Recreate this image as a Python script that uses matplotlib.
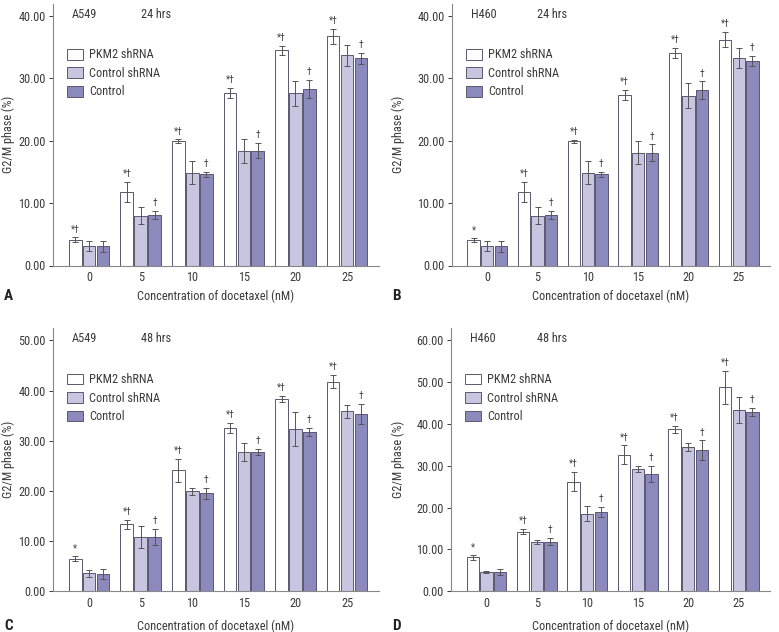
import matplotlib
matplotlib.use("Agg")
import matplotlib.pyplot as plt
from matplotlib import font_manager
from matplotlib.patches import Patch
import numpy as np

names = {f.name for f in font_manager.fontManager.ttflist}
fam = [f for f in ["Liberation Sans Narrow", "Roboto Condensed", "Liberation Sans"] if f in names] + ["DejaVu Sans"]
plt.rcParams["font.family"] = fam

concentrations = ["0", "5", "10", "15", "20", "25"]
series_names = ["PKM2 shRNA", "Control shRNA", "Control"]

# Panel A: A549 24 hrs
a_pkm2 = [4.1, 11.8, 19.9, 27.6, 34.5, 36.7]
a_pkm2_err = [0.4, 1.6, 0.3, 0.8, 0.7, 1.2]
a_ctlsh = [3.2, 8.0, 14.9, 18.3, 27.6, 33.7]
a_ctlsh_err = [0.8, 1.3, 1.9, 1.9, 2.0, 1.7]
a_ctl = [3.1, 8.1, 14.6, 18.4, 28.3, 33.2]
a_ctl_err = [0.9, 0.6, 0.4, 1.2, 1.5, 0.9]
a_mark_pkm2 = ["*†", "*†", "*†", "*†", "*†", "*†"]
a_mark_ctl = ["", "†", "†", "†", "†", "†"]

# Panel B: H460 24 hrs
b_pkm2 = [4.1, 11.8, 19.9, 27.3, 34.1, 36.2]
b_pkm2_err = [0.3, 1.6, 0.2, 0.8, 0.8, 1.2]
b_ctlsh = [3.2, 8.0, 14.9, 18.1, 27.2, 33.3]
b_ctlsh_err = [0.8, 1.3, 1.9, 1.8, 2.0, 1.6]
b_ctl = [3.1, 8.1, 14.6, 18.1, 28.1, 32.8]
b_ctl_err = [0.9, 0.6, 0.4, 1.3, 1.4, 0.8]
b_mark_pkm2 = ["*", "*†", "*†", "*†", "*†", "*†"]
b_mark_ctl = ["", "†", "†", "†", "†", "†"]

# Panel C: A549 48 hrs
c_pkm2 = [6.5, 13.4, 24.1, 32.5, 38.3, 41.8]
c_pkm2_err = [0.5, 0.9, 2.3, 1.0, 0.6, 1.3]
c_ctlsh = [3.6, 10.9, 19.9, 27.8, 32.4, 35.9]
c_ctlsh_err = [0.7, 2.2, 0.7, 1.8, 3.4, 1.3]
c_ctl = [3.45, 10.9, 19.5, 27.7, 31.8, 35.4]
c_ctl_err = [0.9, 1.6, 1.1, 0.6, 0.8, 2.0]
c_mark_pkm2 = ["*", "*†", "*†", "*†", "*†", "*†"]
c_mark_ctl = ["", "†", "†", "†", "†", "†"]

# Panel D: H460 48 hrs
d_pkm2 = [8.1, 14.3, 26.2, 32.7, 38.7, 48.8]
d_pkm2_err = [0.5, 0.6, 2.3, 2.2, 0.8, 4.0]
d_ctlsh = [4.6, 11.8, 18.6, 29.3, 34.5, 43.4]
d_ctlsh_err = [0.3, 0.4, 1.8, 0.7, 1.0, 3.1]
d_ctl = [4.7, 11.9, 18.9, 28.1, 33.7, 42.9]
d_ctl_err = [0.7, 0.9, 1.2, 1.9, 2.4, 1.0]
d_mark_pkm2 = ["*", "*†", "*†", "*†", "*†", "*†"]
d_mark_ctl = ["", "†", "†", "†", "†", "†"]

colors = ["#ffffff", "#c7c5df", "#8c89bd"]
edge = "#5a5870"
err_color = "#555555"
txt = "#3a3a3a"
fs = 8.8

W, H = 779, 632
fig = plt.figure(figsize=(W / 100, H / 100), dpi=100)

def rect(l, r, b, t):
    return [l / W, 1 - b / H, (r - l) / W, (b - t) / H]

panels = [
    dict(px=(52.5, 379, 265.5, 4), ymax=41.9, ticks=[0, 10, 20, 30, 40],
         cell="A549", time="24 hrs", letter="A", lxy=(4, 296), ylx=8,
         data=[(a_pkm2, a_pkm2_err), (a_ctlsh, a_ctlsh_err), (a_ctl, a_ctl_err)],
         marks=(a_mark_pkm2, a_mark_ctl)),
    dict(px=(451.5, 770, 265.5, 4), ymax=41.9, ticks=[0, 10, 20, 30, 40],
         cell="H460", time="24 hrs", letter="B", lxy=(392, 296), ylx=398,
         data=[(b_pkm2, b_pkm2_err), (b_ctlsh, b_ctlsh_err), (b_ctl, b_ctl_err)],
         marks=(b_mark_pkm2, b_mark_ctl)),
    dict(px=(52.5, 379, 591.3, 328.3), ymax=52.4, ticks=[0, 10, 20, 30, 40, 50],
         cell="A549", time="48 hrs", letter="C", lxy=(4, 626), ylx=8,
         data=[(c_pkm2, c_pkm2_err), (c_ctlsh, c_ctlsh_err), (c_ctl, c_ctl_err)],
         marks=(c_mark_pkm2, c_mark_ctl)),
    dict(px=(450.5, 770, 591.3, 328.3), ymax=62.9, ticks=[0, 10, 20, 30, 40, 50, 60],
         cell="H460", time="48 hrs", letter="D", lxy=(392, 626), ylx=398,
         data=[(d_pkm2, d_pkm2_err), (d_ctlsh, d_ctlsh_err), (d_ctl, d_ctl_err)],
         marks=(d_mark_pkm2, d_mark_ctl)),
]

x = np.arange(len(concentrations))
offsets = [-0.27, 0.0, 0.27]
bw = 0.245

for p in panels:
    l, r, b, t = p["px"]
    ax = fig.add_axes(rect(l, r, b, t))
    for i, (vals, errs) in enumerate(p["data"]):
        ax.bar(x + offsets[i], vals, bw, color=colors[i], edgecolor=edge, linewidth=0.7, zorder=2)
        ax.errorbar(x + offsets[i], vals, yerr=errs, fmt="none", ecolor=err_color,
                    elinewidth=0.7, capsize=2.5, capthick=0.7, zorder=3)
    mp, mc = p["marks"]
    for j in range(len(x)):
        v0, e0 = p["data"][0][0][j], p["data"][0][1][j]
        if mp[j]:
            ax.annotate(mp[j], (x[j] + offsets[0], v0 + e0), xytext=(0, 2),
                        textcoords="offset points", ha="center", va="bottom",
                        fontsize=7, color="#444444")
        v2, e2 = p["data"][2][0][j], p["data"][2][1][j]
        if mc[j]:
            ax.annotate(mc[j], (x[j] + offsets[2], v2 + e2), xytext=(0, 2),
                        textcoords="offset points", ha="center", va="bottom",
                        fontsize=7, color="#444444")
    ax.set_xlim(-0.71, 5.62)
    ax.set_ylim(0, p["ymax"])
    ax.set_yticks(p["ticks"])
    ax.set_yticklabels([f"{v:.2f}" for v in p["ticks"]])
    ax.set_xticks(x)
    ax.set_xticklabels(concentrations)
    ax.tick_params(axis="x", length=0, pad=4, labelsize=fs, colors=txt)
    ax.tick_params(axis="y", length=3, width=0.7, pad=2, labelsize=fs, colors=txt, direction="out")
    for s in ["top", "right"]:
        ax.spines[s].set_visible(False)
    for s in ["left", "bottom"]:
        ax.spines[s].set_color("#888888")
        ax.spines[s].set_linewidth(0.8)
    ax.set_xlabel("Concentration of docetaxel (nM)", fontsize=fs, color=txt)
    ax.xaxis.set_label_coords(0.5, -(b - b + (p["lxy"][1] - b)) / (b - t))
    ax.xaxis.label.set_va("center")
    ax.set_ylabel("G2/M phase (%)", fontsize=fs, color=txt)
    ax.yaxis.set_label_coords((p["ylx"] - l) / (r - l), 0.5)
    ax.yaxis.label.set_va("center")
    ax.text(0.06, 0.985, p["cell"], transform=ax.transAxes, fontsize=fs, color=txt, va="top")
    ax.text(0.27, 0.985, p["time"], transform=ax.transAxes, fontsize=fs, color=txt, va="top")
    handles = [Patch(facecolor=colors[i], edgecolor=edge, linewidth=0.7) for i in range(3)]
    ax.legend(handles, series_names, loc="upper left", bbox_to_anchor=(0.045, 0.83),
              frameon=False, fontsize=fs, handlelength=1.3, handleheight=0.95,
              handletextpad=0.5, labelspacing=0.45, borderpad=0, borderaxespad=0,
              labelcolor=txt)
    fig.text(p["lxy"][0] / W, 1 - p["lxy"][1] / H, p["letter"], fontsize=11,
             fontweight="bold", color="#222222", ha="left", va="center")

fig.savefig("out.png", dpi=100)
